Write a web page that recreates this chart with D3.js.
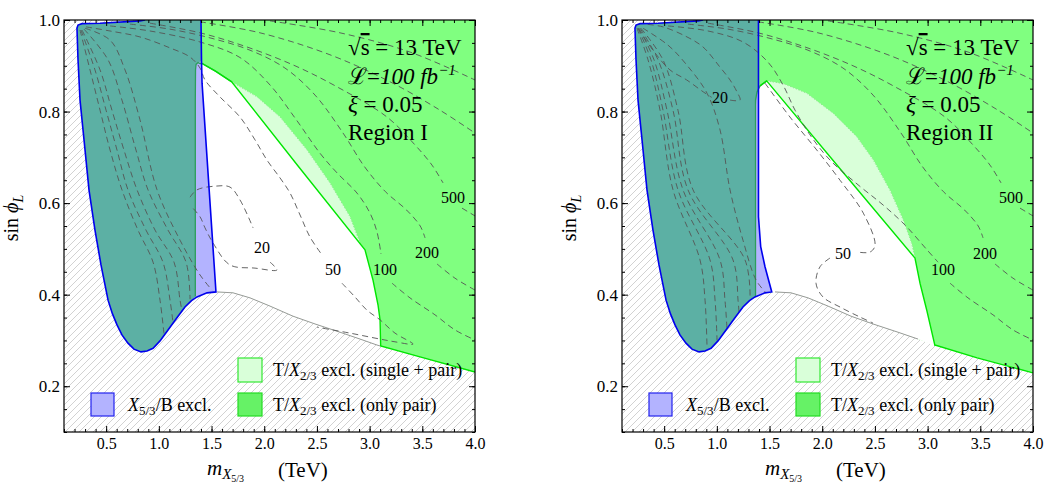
<!DOCTYPE html>
<html>
<head>
<meta charset="utf-8">
<script src="https://cdn.jsdelivr.net/npm/d3@7"></script>
<style>
  body { margin: 0; background: #fff; }
  svg { font-family: "Liberation Serif", "Times New Roman", serif; }
</style>
</head>
<body>
<svg id="chart" width="1044" height="486"></svg>
<script>
/* CONSTANTS */
const width = 1044, height = 486;
const plotW = 411, plotTop = 20, plotBottom = 432;

/* DATA  (m in TeV, sin phi_L) */
const xTicks = [0.5, 1.0, 1.5, 2.0, 2.5, 3.0, 3.5, 4.0];
const yTicks = [0.2, 0.4, 0.6, 0.8, 1.0];

// edge of the X5/3 exclusion (top edge, then left and lower side)
const xbEdge = [[0.869,1.0],[0.821,0.998],[0.442,0.993],[0.271,0.992],[0.233,0.989],[0.223,0.982],[0.233,0.913],[0.252,0.825],[0.290,0.738],[0.337,0.629],[0.394,0.541],[0.451,0.465],[0.518,0.388],[0.560,0.358],[0.603,0.334],[0.650,0.312],[0.707,0.294],[0.764,0.281],[0.831,0.275],[0.888,0.277],[0.945,0.283],[1.011,0.299],[1.087,0.323],[1.170,0.349],[1.248,0.373],[1.310,0.387],[1.362,0.395],[1.457,0.404]];
// lower edge of the allowed region
const grayEdge = [[1.552,0.406],[1.704,0.404],[1.865,0.393],[2.055,0.375],[2.273,0.353],[2.482,0.336],[2.719,0.318],[2.909,0.303],[3.07,0.290],[3.099,0.288]];

// Region I
const blueRightI = [[1.542,0.406],[1.41,0.862],[1.405,0.91],[1.40,1.0]];
const tealRightI = [[1.40,1.0],[1.40,0.91],[1.372,0.907],[1.353,0.903],[1.348,0.891],[1.346,0.825],[1.346,0.396]];
const holeTopI = [[1.346,0.396],[1.346,0.825],[1.348,0.891],[1.353,0.903],[1.372,0.907],[1.391,0.905],[1.41,0.905],[1.533,0.889],[1.691,0.865]];
const singleI = [[1.691,0.865],[2.321,0.681],[2.956,0.498]];
const pairI = [[1.691,0.865],[1.932,0.832],[2.150,0.788],[2.406,0.716],[2.624,0.644],[2.814,0.570],[2.909,0.513],[2.956,0.498]];
const solidLowI = [[3.032,0.432],[3.080,0.377],[3.099,0.345],[3.105,0.288]];
const greenBottomI = [[3.105,0.288],[3.478,0.264],[4.0,0.231]];

// Region II
const blueRightII = [[1.521,0.406],[1.457,0.461],[1.416,0.505],[1.395,0.570],[1.395,1.0]];
const tealRightII = [[1.395,1.0],[1.395,0.85],[1.378,0.835],[1.367,0.80],[1.367,0.395]];
const holeTopII = [[1.367,0.395],[1.367,0.825],[1.381,0.843],[1.410,0.856],[1.473,0.867]];
const singleII = [[1.473,0.867],[2.177,0.673],[2.880,0.480]];
const pairII = [[1.473,0.867],[1.631,0.861],[1.853,0.840],[2.105,0.796],[2.327,0.745],[2.485,0.694],[2.643,0.628],[2.769,0.563],[2.849,0.512],[2.880,0.480]];
const solidLowII = [[2.928,0.425],[2.992,0.366],[3.070,0.288]];
const greenBottomII = [[3.070,0.290],[3.47,0.262],[4.0,0.229]];

// width contours (GeV)
const c100low = [[3.213,0.425],[3.383,0.393],[3.620,0.356],[3.810,0.323],[4.0,0.301]];
const c100I = [[0.537,0.987],[0.916,0.976],[1.391,0.952],[1.770,0.918],[2.055,0.858],[2.292,0.786],[2.529,0.709],[2.691,0.666],[2.880,0.622],[3.004,0.578],[3.070,0.537],[3.108,0.489]];
const c100II = [[0.537,0.987],[0.916,0.976],[1.248,0.952],[1.485,0.908],[1.628,0.858],[1.742,0.803],[1.884,0.749],[2.074,0.694],[2.340,0.640],[2.577,0.596],[2.786,0.552],[2.994,0.498],[3.099,0.471]];
const c200 = [[[0.726,0.991],[1.106,0.980],[1.485,0.961],[1.865,0.934],[2.197,0.895],[2.482,0.836],[2.748,0.753],[2.950,0.680],[3.150,0.625],[3.350,0.585],[3.480,0.550],[3.526,0.524]],
              [[3.640,0.467],[3.810,0.436],[4.0,0.410]]];
const c500 = [[[0.916,0.993],[1.391,0.972],[1.837,0.941],[2.292,0.900],[2.691,0.854],[3.165,0.788],[3.431,0.727],[3.592,0.683],[3.697,0.644]],
              [[3.877,0.589],[4.0,0.572]]];
const c1000 = [[[1.391,0.996],[1.960,0.972],[2.624,0.924],[3.194,0.865],[3.668,0.803],[4.0,0.753]]];
const c2000 = [[[2.055,0.998],[2.719,0.972],[3.383,0.930],[4.0,0.869]]];

const c20I = [[[1.296,0.613],[1.362,0.629],[1.533,0.637],[1.675,0.635],[1.770,0.607],[1.894,0.546]],
              [[2.055,0.471],[2.121,0.454],[1.913,0.458],[1.675,0.465],[1.514,0.513],[1.438,0.546],[1.391,0.570],[1.315,0.591]]];
const c50I = [[[0.309,0.985],[0.537,0.976],[0.821,0.963],[1.106,0.939],[1.296,0.919],[1.391,0.895],[1.438,0.869],[1.580,0.832],[1.770,0.788],[1.913,0.738],[2.026,0.694],[2.150,0.655],[2.245,0.622],[2.340,0.574],[2.434,0.526],[2.548,0.487]],
              [[2.738,0.425],[2.861,0.395],[2.975,0.366],[3.099,0.345],[3.241,0.316],[3.412,0.292],[3.241,0.297],[3.099,0.303],[2.814,0.316],[2.501,0.329]]];
const fanI = [
  [[0.252,0.978],[0.347,0.891],[0.442,0.803],[0.537,0.716],[0.650,0.629],[0.802,0.541],[0.945,0.471],[1.011,0.388],[1.049,0.314]],
  [[0.261,0.978],[0.394,0.891],[0.499,0.803],[0.603,0.716],[0.707,0.629],[0.878,0.541],[1.039,0.471],[1.106,0.388],[1.134,0.340]],
  [[0.271,0.978],[0.442,0.891],[0.555,0.803],[0.669,0.716],[0.793,0.629],[0.964,0.541],[1.144,0.471],[1.201,0.388],[1.220,0.364]],
  [[0.290,0.980],[0.518,0.913],[0.650,0.825],[0.783,0.716],[0.897,0.629],[1.087,0.541],[1.258,0.471],[1.296,0.390]],
  [[0.299,0.982],[0.537,0.956],[0.679,0.891],[0.821,0.782],[0.983,0.629],[1.201,0.519],[1.391,0.443],[1.504,0.410]]
];
const c20II = [[[0.252,0.982],[0.394,0.934],[0.555,0.891],[0.714,0.869],[0.871,0.843],[0.951,0.831]],
               [[1.125,0.825],[1.220,0.825],[1.191,0.843],[1.125,0.869],[1.030,0.897],[0.869,0.941],[0.717,0.963],[0.489,0.985],[0.318,0.991]]];
const c50II = [[[1.457,0.862],[1.694,0.788],[1.948,0.716],[2.169,0.650],[2.390,0.578],[2.501,0.508],[2.453,0.493],[2.340,0.493]],
               [[2.074,0.480],[1.979,0.461],[1.941,0.425],[2.007,0.395],[2.169,0.373],[2.359,0.351],[2.482,0.338]]];
const fanII = [
  [[0.242,0.982],[0.347,0.913],[0.461,0.803],[0.584,0.629],[0.840,0.476],[0.888,0.388],[0.907,0.283]],
  [[0.252,0.982],[0.375,0.913],[0.489,0.803],[0.631,0.629],[0.935,0.476],[0.983,0.388],[1.002,0.300]],
  [[0.261,0.982],[0.404,0.913],[0.527,0.803],[0.679,0.629],[1.030,0.476],[1.077,0.388],[1.096,0.327]],
  [[0.271,0.982],[0.442,0.913],[0.584,0.803],[0.726,0.629],[1.153,0.476],[1.201,0.388],[1.210,0.362]],
  [[0.280,0.982],[0.489,0.913],[0.631,0.803],[0.774,0.629],[1.267,0.476],[1.315,0.393]],
  [[0.299,0.982],[0.537,0.945],[0.717,0.901],[0.907,0.840],[1.030,0.760],[1.125,0.629],[1.248,0.519],[1.372,0.432],[1.467,0.404]]
];

const labelsI = [["20",1.979,0.504],["50",2.653,0.454],["100",3.146,0.454],["200",3.545,0.493],["500",3.791,0.613]];
const labelsII = [["20",1.030,0.830],["50",2.197,0.491],["100",3.146,0.454],["200",3.545,0.491],["500",3.791,0.613]];

const panels = [
  { x0: 64, region: "Region I", blueRight: blueRightI, tealRight: tealRightI, holeTop: holeTopI, single: singleI, pair: pairI,
    solidLow: solidLowI, greenBottom: greenBottomI,
    contours: [...fanI, ...c20I, ...c50I, c100I, c100low, ...c200, ...c500, ...c1000, ...c2000], labels: labelsI },
  { x0: 622, region: "Region II", blueRight: blueRightII, tealRight: tealRightII, holeTop: holeTopII, single: singleII, pair: pairII,
    solidLow: solidLowII, greenBottom: greenBottomII,
    contours: [...fanII, ...c20II, ...c50II, c100II, c100low, ...c200, ...c500, ...c1000, ...c2000], labels: labelsII }
];

/* SVG */
const svg = d3.select("#chart");
const defs = svg.append("defs");
const hatch = defs.append("pattern").attr("id", "hatch")
  .attr("patternUnits", "userSpaceOnUse").attr("width", 7).attr("height", 7);
hatch.append("rect").attr("width", 7).attr("height", 7).attr("fill", "#fff");
hatch.append("path").attr("d", "M-1,1 L1,-1 M0,7 L7,0 M6,8 L8,6")
  .attr("stroke", "#c6c6c6").attr("stroke-width", 0.8);

// text with italics / sub- and superscripts
function rich(sel, parts) {
  parts.forEach(p => {
    const t = sel.append("tspan").text(p.t);
    if (p.i) t.attr("font-style", "italic");
    if (p.size) t.attr("font-size", p.size);
    if (p.dy) t.attr("dy", p.dy);
    if (p.deco) t.attr("text-decoration", p.deco);
  });
  return sel;
}

function drawPanel(p) {
  const x0 = p.x0;
  const x = d3.scaleLinear().domain([0.1, 4.0]).range([x0, x0 + plotW]);
  const y = d3.scaleLinear().domain([0.1, 1.0]).range([plotBottom, plotTop]);
  const line = d3.line().x(d => x(d[0])).y(d => y(d[1]));
  const smooth = d3.line().curve(d3.curveCatmullRom.alpha(0.5)).x(d => x(d[0])).y(d => y(d[1]));
  const poly = pts => line(pts) + "Z";

  defs.append("clipPath").attr("id", "clip" + x0).append("rect")
    .attr("x", x0).attr("y", plotTop).attr("width", plotW).attr("height", plotBottom - plotTop);
  const g = svg.append("g").attr("clip-path", `url(#clip${x0})`);

  // hatched background = theoretically excluded
  g.append("rect").attr("x", x0).attr("y", plotTop).attr("width", plotW)
    .attr("height", plotBottom - plotTop).attr("fill", "url(#hatch)");

  const gray = grayEdge.filter(d => d[0] < p.greenBottom[0][0]);
  const allowed = [...xbEdge, ...gray, ...p.greenBottom, [4.0, 1.0]];
  g.append("path").attr("d", poly(allowed)).attr("fill", "#80ff80");

  const hole = [...p.holeTop, ...p.pair, ...p.solidLow, ...gray.slice().reverse(),
    ...xbEdge.filter(d => d[0] > p.holeTop[0][0] && d[1] < 0.5).reverse()];
  g.append("path").attr("d", poly(hole)).attr("fill", "#fff");

  g.append("path").attr("d", poly([...p.single, ...p.pair.slice().reverse()])).attr("fill", "#d9ffd9");

  g.append("path").attr("d", poly([...xbEdge, ...p.blueRight])).attr("fill", "#b3b3ff");
  const tealEnd = p.tealRight[p.tealRight.length - 1][0];
  g.append("path").attr("d", poly([...xbEdge.filter(d => d[0] < tealEnd), ...p.tealRight.slice().reverse()]))
    .attr("fill", "#5cb0a4");

  // boundary lines
  g.append("path").attr("d", line(gray)).attr("fill", "none").attr("stroke", "#9a9a9a").attr("stroke-width", 1);
  g.append("path").attr("d", line(p.holeTop)).attr("fill", "none").attr("stroke", "#2e9e5c").attr("stroke-width", 1.3);
  g.append("path").attr("d", line(p.pair)).attr("fill", "none").attr("stroke", "#8fea8f")
    .attr("stroke-width", 1).attr("stroke-dasharray", "1.5,1.5");
  g.append("path").attr("d", line([...p.holeTop.filter(d => d[0] >= 1.41), ...p.single, ...p.solidLow, ...p.greenBottom]))
    .attr("fill", "none").attr("stroke", "#00e600").attr("stroke-width", 1.4);

  // contours
  g.selectAll(".contour").data(p.contours).join("path")
    .attr("class", "contour")
    .attr("d", d => smooth(d))
    .attr("fill", "none").attr("stroke", "#555").attr("stroke-width", 0.9)
    .attr("stroke-dasharray", "6,4");

  g.append("path").attr("d", line([...xbEdge, ...p.blueRight])).attr("fill", "none")
    .attr("stroke", "#0000ee").attr("stroke-width", 1.6);

  g.selectAll(".clabel").data(p.labels).join("text")
    .attr("class", "clabel")
    .attr("x", d => x(d[1])).attr("y", d => y(d[2]))
    .attr("text-anchor", "middle").attr("dominant-baseline", "central")
    .attr("font-size", 16).text(d => d[0]);

  // annotation
  const ax = x0 + 284;
  rich(svg.append("text").attr("x", ax).attr("y", 55).attr("font-size", 23),
    [{ t: "√" }, { t: "s", deco: "overline" }, { t: " = 13 TeV" }]);
  rich(svg.append("text").attr("x", ax).attr("y", 84).attr("font-size", 23),
    [{ t: "ℒ" }, { t: "=" }, { t: "100 fb", i: true }, { t: "−1", i: true, size: 15, dy: -9 }]);
  rich(svg.append("text").attr("x", ax).attr("y", 112).attr("font-size", 23),
    [{ t: "ξ", i: true }, { t: " = 0.05" }]);
  svg.append("text").attr("x", ax).attr("y", 140).attr("font-size", 23).text(p.region);

  // legend
  const leg = svg.append("g").attr("font-size", 18);
  leg.append("rect").attr("x", x0 + 174).attr("y", 358).attr("width", 24).attr("height", 24)
    .attr("fill", "#d9ffd9").attr("stroke", "#33e833").attr("stroke-width", 1.2);
  leg.append("rect").attr("x", x0 + 174).attr("y", 393).attr("width", 24).attr("height", 23)
    .attr("fill", "#66f266").attr("stroke", "#22dd22").attr("stroke-width", 1.2);
  leg.append("rect").attr("x", x0 + 27).attr("y", 393).attr("width", 23).attr("height", 23)
    .attr("fill", "#b3b3ff").attr("stroke", "#2222ee").attr("stroke-width", 1.2);
  rich(leg.append("text").attr("x", x0 + 209).attr("y", 376),
    [{ t: "T/" }, { t: "X", i: true }, { t: "2/3", size: 13, dy: 4 }, { t: " excl. (single + pair)", dy: -4 }]);
  rich(leg.append("text").attr("x", x0 + 209).attr("y", 411),
    [{ t: "T/" }, { t: "X", i: true }, { t: "2/3", size: 13, dy: 4 }, { t: " excl. (only pair)", dy: -4 }]);
  rich(leg.append("text").attr("x", x0 + 64).attr("y", 411),
    [{ t: "X", i: true }, { t: "5/3", size: 13, dy: 4 }, { t: "/B excl.", dy: -4 }]);

  // frame and ticks
  svg.append("rect").attr("x", x0).attr("y", plotTop).attr("width", plotW)
    .attr("height", plotBottom - plotTop).attr("fill", "none").attr("stroke", "#000").attr("stroke-width", 1.2);

  const styleAxis = a => { a.select(".domain").remove(); a.selectAll("line").attr("stroke", "#000"); };
  svg.append("g").attr("transform", `translate(0,${plotBottom})`)
    .call(d3.axisBottom(x).tickValues(xTicks).tickSize(-6).tickPadding(6).tickFormat(d3.format(".1f")))
    .call(styleAxis)
    .call(a => a.selectAll("text").attr("font-size", 16).attr("font-family", "Liberation Serif").attr("fill", "#000"));
  svg.append("g").attr("transform", `translate(0,${plotBottom})`)
    .call(d3.axisBottom(x).ticks(40).tickSize(-3).tickFormat("")).call(styleAxis);
  svg.append("g").attr("transform", `translate(0,${plotTop})`)
    .call(d3.axisTop(x).tickValues(xTicks).tickSize(-6).tickFormat("")).call(styleAxis);
  svg.append("g").attr("transform", `translate(0,${plotTop})`)
    .call(d3.axisTop(x).ticks(40).tickSize(-3).tickFormat("")).call(styleAxis);
  svg.append("g").attr("transform", `translate(${x0},0)`)
    .call(d3.axisLeft(y).tickValues(yTicks).tickSize(-6).tickPadding(4).tickFormat(d3.format(".1f")))
    .call(styleAxis)
    .call(a => a.selectAll("text").attr("font-size", 17).attr("font-family", "Liberation Serif").attr("fill", "#000"));
  svg.append("g").attr("transform", `translate(${x0},0)`)
    .call(d3.axisLeft(y).ticks(20).tickSize(-3).tickFormat("")).call(styleAxis);
  svg.append("g").attr("transform", `translate(${x0 + plotW},0)`)
    .call(d3.axisRight(y).tickValues(yTicks).tickSize(-6).tickFormat("")).call(styleAxis);
  svg.append("g").attr("transform", `translate(${x0 + plotW},0)`)
    .call(d3.axisRight(y).ticks(20).tickSize(-3).tickFormat("")).call(styleAxis);

  // axis titles
  rich(svg.append("text").attr("transform", `translate(${x0 - 46},218) rotate(-90)`)
    .attr("text-anchor", "middle").attr("font-size", 20),
    [{ t: "sin " }, { t: "ϕ", i: true }, { t: "L", i: true, size: 14, dy: 5 }]);
  rich(svg.append("text").attr("x", x0 + 143).attr("y", 475).attr("font-size", 21),
    [{ t: "m", i: true }, { t: "X", i: true, size: 15, dy: 4 }, { t: "5/3", size: 10, dy: 3 }]);
  svg.append("text").attr("x", x0 + 214).attr("y", 477).attr("font-size", 21).text("(TeV)");
}

panels.forEach(drawPanel);
</script>
</body>
</html>
